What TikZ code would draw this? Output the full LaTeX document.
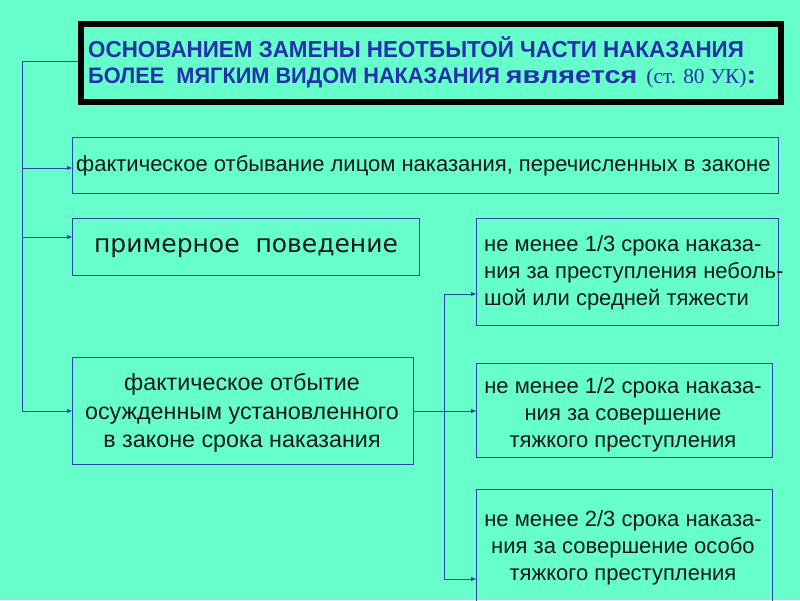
\documentclass[tikz,border=0pt]{standalone}
\usepackage{fontspec}
\setmainfont{Liberation Sans}
\newfontfamily\narrowbold[FakeStretch=0.97]{Liberation Sans Bold}
\newfontfamily\widebold[FakeStretch=1.2]{Liberation Sans Bold}
\newfontfamily\timesf{Liberation Serif}
\newfontfamily\wide{DejaVu Sans}
\usetikzlibrary{arrows.meta}
\definecolor{bg}{RGB}{102,255,204}
\definecolor{lineblue}{RGB}{40,70,170}
\definecolor{titleblue}{RGB}{35,50,170}
\definecolor{txt}{RGB}{20,25,25}
\begin{document}
\begin{tikzpicture}[x=1pt,y=-1pt,
  box/.style={draw=lineblue,line width=0.9pt,inner sep=0pt,anchor=north west},
  conn/.style={draw=lineblue,line width=0.9pt},
  arr/.style={conn,-{Triangle[length=5pt,width=4pt]}},
  t/.style={text=txt,font=\fontsize{22}{27}\selectfont}]
\fill[bg] (0,0) rectangle (800,600);
\useasboundingbox (0,0) rectangle (800,600);
% title
\node[draw=black,line width=6pt,minimum width=700pt,minimum height=78pt,anchor=north west,inner sep=0pt] (title) at (78,21) {};
\node[anchor=west,text=titleblue,font=\narrowbold\fontsize{23.1}{27}\selectfont,inner sep=0pt] (t1) at (88,47) {ОСНОВАНИЕМ ЗАМЕНЫ НЕОТБЫТОЙ ЧАСТИ НАКАЗАНИЯ};
\node[anchor=base west,text=titleblue,inner sep=0pt] (t2) at (88,83) {\narrowbold\fontsize{22.4}{27}\selectfont БОЛЕЕ\ \ МЯГКИМ ВИДОМ НАКАЗАНИЯ {\widebold\fontsize{24}{27}\selectfont является}\hspace{3pt} {\timesf\fontsize{21.4}{27}\selectfont(ст. 80 УК)}{\widebold\fontsize{24}{27}\selectfont :}};
% left boxes
\node[box,minimum width=706pt,minimum height=56pt] (b1) at (72,137) {};
\node[t,anchor=west,inner sep=0pt] (b1t) at (76,166) {фактическое отбывание лицом наказания, перечисленных в законе};
\node[box,minimum width=347pt,minimum height=57pt] (b2) at (72,218) {};
\node[text=txt,font=\wide\fontsize{25}{27}\selectfont,inner sep=0pt] (b2t) at (246,248) {примерное\ \ поведение};
\node[box,minimum width=341pt,minimum height=107pt] (b3) at (72,357) {};
\node[text=txt,font=\fontsize{23.3}{28.5}\selectfont,align=center,inner sep=0pt] (b3t) at (242,413) {фактическое отбытие\\осужденным установленного\\в законе срока наказания};
% right boxes
\node[box,minimum width=302pt,minimum height=107pt] (r1) at (476,218) {};
\node[t,align=left,anchor=west,inner sep=0pt] (r1t) at (484,273) {не менее 1/3 срока наказа-\\ния за преступления неболь-\\шой или средней тяжести};
\node[box,minimum width=296pt,minimum height=94pt] (r2) at (476,363) {};
\node[t,align=center,inner sep=0pt] (r2t) at (623,415) {не менее 1/2 срока наказа-\\ния за совершение\\ тяжкого преступления};
\node[box,minimum width=296pt,minimum height=120pt] (r3) at (476,489) {};
\node[t,align=center,inner sep=0pt] (r3t) at (623,548) {не менее 2/3 срока наказа-\\ния за совершение особо\\ тяжкого преступления};
% connectors
\coordinate (lt) at (22,61);
\coordinate (lb) at (22,411);
\coordinate (rs) at (444,411);
\coordinate (rtop) at (444,294);
\coordinate (rbot) at (444,579);
\draw[conn] (title.west |- lt) -- (lt) -- (lb);
\draw[arr] (22,168) -- (b1.west |- 0,168);
\draw[arr] (22,237) -- (b2.west |- 0,237);
\draw[arr] (lb) -- (b3.west |- lb);
\draw[conn] (b3.east |- rs) -- (rs);
\draw[conn] (rtop) -- (rbot);
\draw[arr] (rtop) -- (r1.west |- rtop);
\draw[arr] (rs) -- (r2.west |- rs);
\draw[arr] (rbot) -- (r3.west |- rbot);
\end{tikzpicture}
\end{document}
